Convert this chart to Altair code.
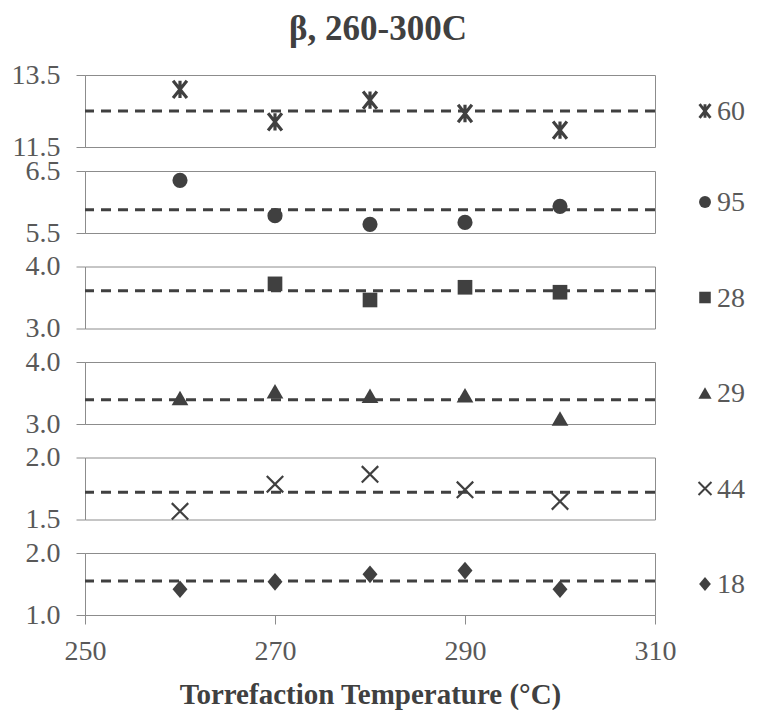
import altair as alt
import pandas as pd

# ---- data ----
temps = [260, 270, 280, 290, 300]
series_names = ["60", "95", "28", "29", "44", "18"]
vals_60 = [13.1, 12.2, 12.8, 12.43, 11.97]
vals_95 = [6.35, 5.78, 5.64, 5.67, 5.93]
vals_28 = [None, 3.72, 3.46, 3.665, 3.585]
vals_29 = [3.42, 3.53, 3.455, 3.465, 3.09]
vals_44 = [1.566, 1.785, 1.864, 1.739, 1.646]
vals_18 = [1.415, 1.535, 1.656, 1.716, 1.415]
y_ranges = [[11.5, 13.5], [5.5, 6.5], [3.0, 4.0], [3.0, 4.0], [1.5, 2.0], [1.0, 2.0]]
x_ticks = [250, 270, 290, 310]

all_vals = [vals_60, vals_95, vals_28, vals_29, vals_44, vals_18]
rows = []
for name, vals in zip(series_names, all_vals):
    for t, v in zip(temps, vals):
        if v is not None:
            rows.append({"series": name, "temp": t, "value": v})
df = pd.DataFrame(rows)
legend_df = pd.DataFrame({"series": series_names})

# ---- style ----
FONT = "Liberation Serif"
DARK = "#404040"
GRAY = "#595959"
LINE = "#8c8c8c"
PLOT_W = 570
heights = [72, 62, 62, 62, 62, 62]
LAB = 28

asterisk = "M-0.8,-1L0.8,1M-0.8,1L0.8,-1M0,-1L0,1"
xcross = "M-1,-1L1,1M-1,1L1,-1"
diamond = "M0,-1L0.85,0L0,1L-0.85,0Z"
shapes = {
    "60": dict(shape=asterisk, filled=False, strokeWidth=3.2, size=300),
    "95": dict(shape="circle", filled=True, size=230),
    "28": dict(shape="square", filled=True, size=215),
    "29": dict(shape="triangle-up", filled=True, size=280),
    "44": dict(shape=xcross, filled=False, strokeWidth=2.2, size=270),
    "18": dict(shape=diamond, filled=True, size=310),
}
legend_scale = 0.62


def panel(i, name):
    lo, hi = y_ranges[i]
    h = heights[i]
    last = i == len(series_names) - 1
    xaxis = alt.Axis(
        values=x_ticks, title="Torrefaction Temperature (°C)", grid=False,
        labelFont=FONT, labelFontSize=LAB, labelColor=GRAY, labelPadding=13,
        labelFlush=False,
        titleFont=FONT, titleFontSize=29, titleFontWeight="bold", titleColor=DARK,
        titlePadding=15, tickColor=LINE, tickSize=9, domainColor=LINE,
    ) if last else None
    yaxis = alt.Axis(
        values=[lo, hi], format=".1f", title=None, grid=False,
        labelFont=FONT, labelFontSize=LAB, labelColor=GRAY, labelPadding=16,
        tickColor=LINE, tickSize=9, domainColor=LINE,
    )
    base = alt.Chart(df).transform_filter(alt.datum.series == name)
    x = alt.X("temp:Q", scale=alt.Scale(domain=[250, 310], nice=False), axis=xaxis)
    y = alt.Y("value:Q", scale=alt.Scale(domain=[lo, hi], nice=False, zero=False), axis=yaxis)
    st = shapes[name]
    pts = base.mark_point(color=DARK, opacity=1, **st).encode(x=x, y=y)
    rule = base.mark_rule(color=DARK, strokeDash=[10, 7], strokeWidth=3).encode(
        y=alt.Y("mean(value):Q")
    )
    lst = dict(st)
    lst["size"] = st["size"] * legend_scale
    if "strokeWidth" in lst:
        lst["strokeWidth"] = lst["strokeWidth"] * 0.9
    leg_pt = alt.Chart(legend_df).transform_filter(alt.datum.series == name).mark_point(
        color=DARK, opacity=1, **lst
    ).encode(x=alt.value(620), y=alt.value(h / 2))
    leg_tx = alt.Chart(legend_df).transform_filter(alt.datum.series == name).mark_text(
        font=FONT, fontSize=LAB, color=GRAY, align="left", baseline="middle"
    ).encode(x=alt.value(632), y=alt.value(h / 2 + 1), text="series:N")
    return alt.layer(rule, pts, leg_pt, leg_tx).properties(width=PLOT_W, height=h)


panels = [panel(i, n) for i, n in enumerate(series_names)]
lower = alt.vconcat(*panels[1:], spacing=33.5, bounds="flush")
chart = alt.vconcat(panels[0], lower, spacing=24, bounds="flush").properties(
    title=alt.TitleParams(
        "β, 260-300C", font=FONT, fontSize=35, fontWeight="bold", color=DARK,
        anchor="middle", offset=14,
    ),
    padding={"left": 2, "top": 3, "right": 0, "bottom": 0},
).configure_view(stroke=LINE, strokeWidth=1).configure_concat(spacing=24)

chart.save("out.html", embed_options={"renderer": "svg", "actions": False})
